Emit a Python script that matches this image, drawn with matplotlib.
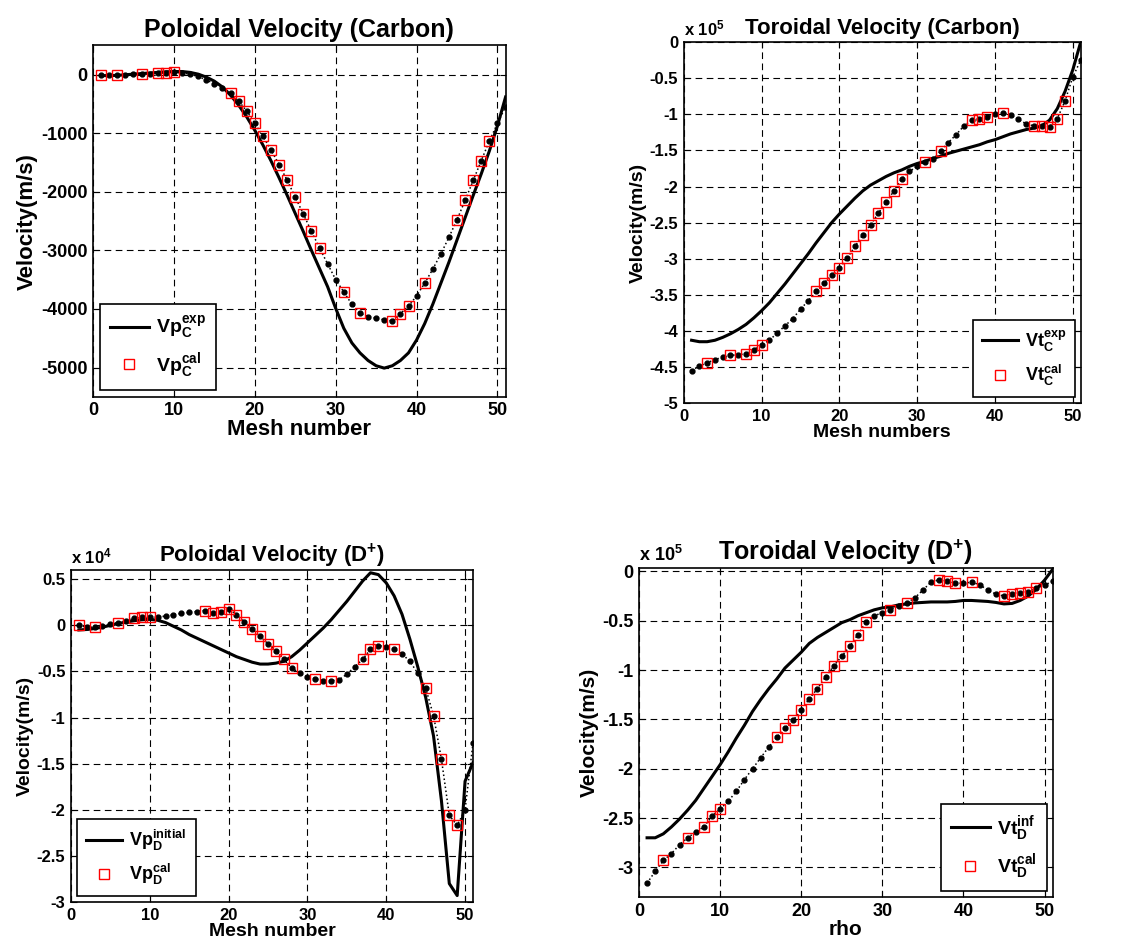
import matplotlib
matplotlib.use('Agg')
import matplotlib.pyplot as plt
import numpy as np

plt.rcParams['font.family'] = ['Liberation Sans', 'DejaVu Sans']
plt.rcParams['font.weight'] = 'bold'
plt.rcParams['mathtext.fontset'] = 'custom'
plt.rcParams['mathtext.bf'] = 'Liberation Sans:bold'
plt.rcParams['mathtext.rm'] = 'Liberation Sans:bold'
plt.rcParams['mathtext.it'] = 'Liberation Sans:bold'
plt.rcParams['mathtext.default'] = 'bf'
plt.rcParams['axes.unicode_minus'] = False

mesh = np.arange(1, 52)
# mesh numbers where the red squares sit
sq_a = [1, 3, 6, 8, 9, 10, 17, 18, 19, 20, 21, 22, 23, 24, 25, 26, 27, 28,
        31, 33, 37, 38, 39, 41, 45, 46, 47, 48, 49]
sq_b = sq_a[1:]

# Poloidal velocity, carbon (m/s)
vpc_exp = [-15, -15, -10, 0, 10, 20, 30, 40, 50, 55, 55, 40, 10, -40, -110,
           -210, -350, -520, -720, -950, -1200, -1470, -1760, -2060, -2370,
           -2680, -3000, -3310, -3620, -3990, -4330, -4580, -4750, -4880,
           -4970, -5010, -4970, -4880, -4750, -4530, -4250, -3920, -3560,
           -3200, -2820, -2440, -2060, -1690, -1300, -870, -380]
vpc_cal = [-10, -10, -10, 0, 5, 10, 15, 25, 35, 40, 30, 10, -30, -90, -150,
           -220, -320, -450, -620, -830, -1050, -1285, -1535, -1805, -2090,
           -2380, -2675, -2960, -3230, -3500, -3710, -3920, -4070, -4130,
           -4160, -4185, -4205, -4080, -3955, -3775, -3560, -3320, -3060,
           -2775, -2475, -2145, -1805, -1465, -1130, -830, -545]

# Toroidal velocity, carbon (x 1e5 m/s)
vtc_exp = [-4.13, -4.15, -4.15, -4.13, -4.09, -4.04, -3.98, -3.91, -3.82,
           -3.72, -3.61, -3.48, -3.35, -3.21, -3.07, -2.93, -2.78, -2.64,
           -2.50, -2.38, -2.27, -2.16, -2.06, -1.98, -1.92, -1.86, -1.81,
           -1.77, -1.72, -1.68, -1.65, -1.61, -1.58, -1.54, -1.51, -1.48,
           -1.45, -1.42, -1.38, -1.35, -1.31, -1.27, -1.24, -1.21, -1.19,
           -1.16, -1.08, -0.92, -0.68, -0.38, 0.0]
vtc_cal = [-4.55, -4.49, -4.44, -4.40, -4.36, -4.34, -4.33, -4.32, -4.26,
           -4.20, -4.13, -4.03, -3.93, -3.83, -3.70, -3.58, -3.45, -3.34,
           -3.23, -3.13, -2.99, -2.83, -2.67, -2.53, -2.37, -2.22, -2.06,
           -1.89, -1.79, -1.72, -1.66, -1.62, -1.51, -1.39, -1.28, -1.16,
           -1.08, -1.06, -1.03, -1.00, -0.98, -1.01, -1.07, -1.13, -1.16,
           -1.16, -1.17, -1.06, -0.81, -0.48, -0.25]

# Poloidal velocity, D+ (x 1e4 m/s)
vpd_ini = [-0.05, -0.045, -0.035, -0.02, 0.0, 0.02, 0.035, 0.05, 0.06, 0.065,
           0.055, 0.03, -0.01, -0.05, -0.10, -0.14, -0.18, -0.22, -0.26,
           -0.30, -0.34, -0.37, -0.40, -0.42, -0.42, -0.41, -0.39, -0.34,
           -0.27, -0.19, -0.11, -0.03, 0.06, 0.16, 0.26, 0.37, 0.48, 0.57,
           0.55, 0.46, 0.32, 0.12, -0.15, -0.45, -0.78, -1.2, -1.9, -2.8,
           -2.93, -1.69, -1.49]
vpd_cal = [0.0, -0.02, -0.02, -0.01, 0.01, 0.03, 0.05, 0.075, 0.085, 0.085,
           0.09, 0.10, 0.115, 0.13, 0.14, 0.15, 0.16, 0.13, 0.15, 0.18,
           0.115, 0.04, -0.04, -0.12, -0.20, -0.28, -0.37, -0.46, -0.52,
           -0.56, -0.58, -0.60, -0.60, -0.59, -0.53, -0.45, -0.37, -0.26,
           -0.22, -0.23, -0.26, -0.31, -0.39, -0.52, -0.68, -0.98, -1.45,
           -2.06, -2.17, -2.0, -1.28]

# Toroidal velocity, D+ (x 1e5 m/s)
vtd_inf = [-2.70, -2.70, -2.66, -2.59, -2.51, -2.42, -2.32, -2.20, -2.08,
           -1.96, -1.83, -1.69, -1.56, -1.42, -1.30, -1.19, -1.09, -0.98,
           -0.90, -0.82, -0.73, -0.67, -0.62, -0.57, -0.52, -0.49, -0.45,
           -0.42, -0.39, -0.37, -0.36, -0.34, -0.33, -0.32, -0.315, -0.31,
           -0.31, -0.31, -0.305, -0.295, -0.295, -0.30, -0.305, -0.315,
           -0.33, -0.325, -0.295, -0.25, -0.18, -0.09, 0.02]
vtd_cal = [-3.16, -3.04, -2.93, -2.86, -2.77, -2.70, -2.64, -2.59, -2.48,
           -2.41, -2.33, -2.23, -2.11, -2.00, -1.89, -1.78, -1.68, -1.59,
           -1.51, -1.41, -1.29, -1.19, -1.07, -0.96, -0.86, -0.76, -0.64,
           -0.51, -0.45, -0.42, -0.39, -0.35, -0.32, -0.27, -0.19, -0.11,
           -0.085, -0.10, -0.12, -0.12, -0.11, -0.135, -0.19, -0.23, -0.25,
           -0.23, -0.215, -0.205, -0.17, -0.14, -0.10]

fig = plt.figure(figsize=(11.21, 9.47), dpi=100)


def panel(rect, solid, cal, sq, lab1, lab2, title, xlab, ylim, yticks,
          legloc, anchor, expo=None, tfs=18, lfs=15, kfs=12, gfs=13):
    ax = fig.add_axes(rect)
    ax.plot(mesh, solid, 'k-', lw=2.2, label=lab1)
    ax.plot(mesh, cal, 'k:', lw=1.1, marker='.', ms=7)
    cal = np.array(cal)
    idx = np.array(sq) - 1
    ax.plot(mesh[idx], cal[idx], 's', ls='none', mfc='none', mec='red',
            mew=1.0, ms=6.5, label=lab2)
    ax.set_xlim(0, 51)
    ax.set_ylim(*ylim)
    ax.set_xticks([0, 10, 20, 30, 40, 50])
    ax.set_yticks(yticks)
    ax.set_yticklabels(['%g' % v for v in yticks])
    ax.grid(True, color='black', ls=(0, (6, 4)), lw=0.8)
    ax.tick_params(direction='in', top=True, right=True, length=4,
                   labelsize=kfs, pad=4)
    for lbl in ax.get_xticklabels() + ax.get_yticklabels():
        lbl.set_fontweight('heavy')
    for s in ax.spines.values():
        s.set_linewidth(1.2)
    ax.set_title(title, fontsize=tfs, fontweight='bold', pad=6)
    ax.set_xlabel(xlab, fontsize=lfs, fontweight='bold', labelpad=0)
    ax.set_ylabel('Velocity(m/s)', fontsize=lfs, fontweight='bold',
                  labelpad=2)
    if expo:
        ax.text(0.0, 1.01, expo, transform=ax.transAxes, ha='left',
                va='bottom', fontsize=kfs, fontweight='bold')
    leg = ax.legend(loc=legloc, bbox_to_anchor=anchor, borderaxespad=0,
                    fancybox=False, edgecolor='black', fontsize=gfs,
                    framealpha=1, handlelength=2.0, handletextpad=0.4,
                    borderpad=0.5, labelspacing=0.5)
    leg.get_frame().set_linewidth(1.2)
    return ax


panel([0.083, 0.581, 0.368, 0.371], vpc_exp, vpc_cal, sq_a,
      r'$Vp_{C}^{exp}$', r'$Vp_{C}^{cal}$',
      'Poloidal Velocity (Carbon)', 'Mesh number', (-5500, 500),
      [0, -1000, -2000, -3000, -4000, -5000], 'lower left', (0.017, 0.02),
      tfs=18, lfs=16, kfs=13, gfs=14)

panel([0.610, 0.5744, 0.354, 0.381], vtc_exp, vtc_cal, sq_b,
      r'$Vt_{C}^{exp}$', r'$Vt_{C}^{cal}$',
      'Toroidal Velocity (Carbon)', 'Mesh numbers', (-5, 0),
      [0, -0.5, -1, -1.5, -2, -2.5, -3, -3.5, -4, -4.5, -5], 'lower right',
      (0.987, 0.017), expo=r'x 10$^{5}$', tfs=16, lfs=14, kfs=12, gfs=13)

panel([0.0633, 0.0475, 0.3586, 0.3506], vpd_ini, vpd_cal, sq_a,
      r'$Vp_{D}^{initial}$', r'$Vp_{D}^{cal}$',
      r'Poloidal Velocity (D$^{+}$)', 'Mesh number', (-3, 0.6),
      [0.5, 0, -0.5, -1, -1.5, -2, -2.5, -3], 'lower left', (0.015, 0.018),
      expo=r'x 10$^{4}$', tfs=16, lfs=14, kfs=12, gfs=13)

panel([0.570, 0.0528, 0.369, 0.347], vtd_inf, vtd_cal, sq_b,
      r'$Vt_{D}^{inf}$', r'$Vt_{D}^{cal}$',
      r'Toroidal Velocity (D$^{+}$)', 'rho', (-3.3, 0.03),
      [0, -0.5, -1, -1.5, -2, -2.5, -3], 'lower right', (0.986, 0.018),
      expo=r'x 10$^{5}$', tfs=18, lfs=15, kfs=13, gfs=14)

fig.savefig('out.png', dpi=100, facecolor='white')
